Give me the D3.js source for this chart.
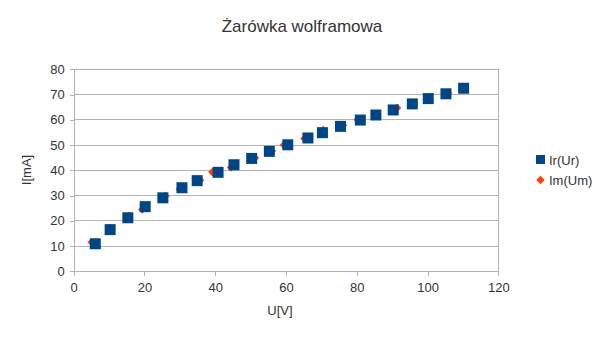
<!DOCTYPE html>
<html><head><meta charset="utf-8">
<script src="https://cdn.jsdelivr.net/npm/d3@7"></script>
<style>body{margin:0;background:#fff}svg{display:block}text{font-family:"Liberation Sans",Arial,sans-serif}</style>
</head><body><svg id="c" width="605" height="340"></svg>
<script>
const title = "Żarówka wolframowa";
const xLabel = "U[V]";
const yLabel = "I[mA]";
const xTicks = [0,20,40,60,80,100,120];
const yTicks = [0,10,20,30,40,50,60,70,80];
const seriesNames = ["Ir(Ur)", "Im(Um)"];
const Ur = [6.1,10.3,15.3,20.2,25.2,30.6,34.9,40.8,45.3,50.3,55.3,60.5,66.2,70.3,75.4,81.0,85.4,90.3,95.7,100.2,105.2,110.2];
const Ir = [10.9,16.5,21.2,25.6,29.1,33.1,35.9,39.2,42.2,44.7,47.5,50.1,52.8,54.9,57.4,59.9,61.9,63.9,66.3,68.4,70.3,72.5];
const Um = [5.1,10.2,15.6,19.4,25.9,30.0,35.7,39.2,44.5,51.2,56.0,59.4,65.2,70.5,76.1,80.3,85.5,91.4,96.0,100.3,105.8,110.0];
const Im = [11.5,17.1,21.8,24.5,29.8,32.5,36.1,39.3,41.1,44.9,47.6,50.0,52.6,55.9,57.7,60.0,62.0,64.7,66.3,68.3,70.6,72.4];

const svg = d3.select("#c");
const x = d3.scaleLinear().domain([0,120]).range([73.7,498.3]);
const y = d3.scaleLinear().domain([0,80]).range([271.3,69.3]);
const grid = "#b3b3b3", txt = "#333";

svg.append("text").attr("x",302).attr("y",32).attr("text-anchor","middle")
  .attr("font-size",17).attr("fill",txt).text(title);

svg.append("g").selectAll("line").data(yTicks).join("line")
  .attr("x1",x(0)).attr("x2",x(120)).attr("y1",d=>y(d)).attr("y2",d=>y(d))
  .attr("stroke",grid).attr("stroke-width",1).attr("shape-rendering","crispEdges");
svg.append("line").attr("x1",x(120)).attr("x2",x(120)).attr("y1",y(80)).attr("y2",y(0))
  .attr("stroke",grid).attr("shape-rendering","crispEdges");

const xa = svg.append("g").attr("transform",`translate(0,${y(0)})`)
  .call(d3.axisBottom(x).tickValues(xTicks).tickSize(5).tickPadding(6).tickFormat(d3.format("d")));
const ya = svg.append("g").attr("transform",`translate(${x(0)},0)`)
  .call(d3.axisLeft(y).tickValues(yTicks).tickSize(4).tickPadding(5).tickFormat(d3.format("d")));
[xa,ya].forEach(a=>{
  a.selectAll("path,line").attr("stroke",grid).attr("shape-rendering","crispEdges");
  a.selectAll("text").attr("font-size",13).attr("fill",txt).attr("font-family","Liberation Sans, Arial, sans-serif");
});

svg.append("text").attr("x",280).attr("y",315).attr("text-anchor","middle")
  .attr("font-size",13).attr("fill",txt).text(xLabel);
svg.append("text").attr("transform","translate(31,170) rotate(-90)").attr("text-anchor","middle")
  .attr("font-size",13).attr("fill",txt).text(yLabel);

const blue = "#004586", red = "#ff420e";
const dia = d3.symbol().type(d3.symbolDiamond2).size(48);
svg.append("g").selectAll("path").data(Um.map((u,i)=>[u,Im[i]])).join("path")
  .attr("d",dia).attr("transform",d=>`translate(${x(d[0])},${y(d[1])})`)
  .attr("fill",red);
svg.append("g").selectAll("rect").data(Ur.map((u,i)=>[u,Ir[i]])).join("rect")
  .attr("x",d=>x(d[0])-5.5).attr("y",d=>y(d[1])-5.5).attr("width",11).attr("height",11)
  .attr("fill",blue);

const lg = svg.append("g");
lg.append("rect").attr("x",536).attr("y",155).attr("width",9).attr("height",9).attr("fill",blue);
lg.append("text").attr("x",549).attr("y",164.5).attr("font-size",13).attr("fill",txt).text(seriesNames[0]);
lg.append("path").attr("d",d3.symbol().type(d3.symbolDiamond2).size(48)).attr("transform","translate(540.5,180)").attr("fill",red);
lg.append("text").attr("x",549).attr("y",184.5).attr("font-size",13).attr("fill",txt).text(seriesNames[1]);
</script></body></html>
